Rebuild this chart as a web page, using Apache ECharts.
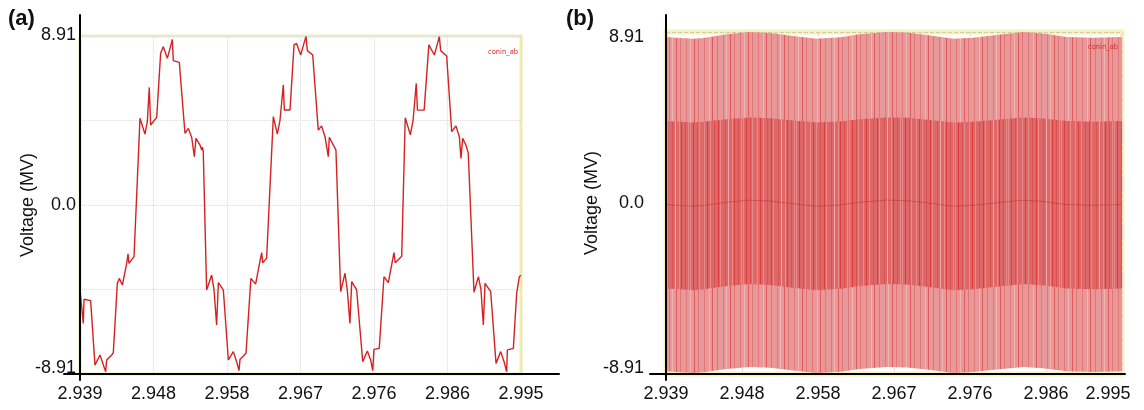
<!DOCTYPE html>
<html>
<head>
<meta charset="utf-8">
<script src="https://cdn.jsdelivr.net/npm/echarts@6/dist/echarts.min.js"></script>
<style>
html,body{margin:0;padding:0;background:#fff;}
#c{width:1144px;height:410px;}
</style>
</head>
<body>
<div id="c"></div>
<script>
// ---- axis ticks ----
const T0 = 2.939, T1 = 2.995;
const xTickLabels = ['2.939','2.948','2.958','2.967','2.976','2.986','2.995'];
const yTickLabels = ['-8.91','','0.0','','8.91'];
const yMin = -8.91, yMax = 8.91, yStep = 4.455;

// ---- panel (a): conin_ab waveform (time s, voltage MV) ----
const aTime = [
2.93900,2.93942,2.93951,2.94035,2.94090,2.94154,2.94226,2.94239,2.94302,2.94323,
2.94374,2.94399,2.94438,2.94493,2.94510,2.94522,2.94586,2.94598,
2.94662,2.94725,2.94755,2.94780,2.94797,2.94874,
2.94924,2.94958,2.95009,2.95043,2.95072,2.95085,2.95161,
2.95233,2.95276,2.95318,2.95352,2.95373,2.95424,2.95445,2.95455,2.95465,
2.95508,2.95572,2.95602,2.95635,2.95657,2.95720,
2.95784,2.95847,2.95889,2.95919,2.95932,2.96008,
2.96070,2.96130,2.96186,2.96207,2.96220,2.96270,2.96292,
2.96355,2.96406,2.96440,2.96482,2.96495,2.96567,
2.96618,2.96650,2.96702,2.96744,2.96770,2.96787,2.96855,
2.96926,2.96968,2.97011,2.97053,2.97066,2.97117,2.97138,2.97150,
2.97210,2.97265,2.97294,2.97328,2.97350,2.97413,
2.97490,2.97549,2.97591,2.97617,2.97633,2.97700,
2.97760,2.97815,2.97887,2.97904,2.97985,
2.98030,2.98095,2.98130,2.98170,2.98185,2.98270,
2.98330,2.98355,2.98400,2.98440,2.98463,2.98480,2.98556,
2.98620,2.98674,2.98717,2.98738,2.98759,2.98800,2.98830,
2.98903,2.98959,2.98992,2.99022,2.99043,2.99115,
2.99183,2.99242,2.99285,2.99318,2.99327,2.99403,
2.99445,2.99479,2.99500
];
const aVolt = [
-4.45,-6.24,-4.97,-5.04,-8.44,-7.91,-8.79,-8.17,-7.91,-7.79,
-4.13,-3.87,-4.22,-3.08,-2.58,-3.08,-2.72,-2.64,
4.57,3.74,4.39,6.20,4.22,4.62,
8.00,8.35,7.73,8.26,8.73,7.61,7.52,
3.78,4.04,3.57,2.55,3.51,3.16,2.90,3.05,2.85,
-4.48,-3.69,-4.48,-6.33,-4.09,-4.48,
-8.17,-7.73,-8.26,-8.73,-8.14,-7.82,
-3.87,-4.17,-2.95,-2.51,-3.05,-2.80,-2.70,
4.66,3.74,4.48,6.33,5.01,5.01,
8.44,8.52,7.91,8.52,8.88,8.14,7.91,
3.95,4.17,3.60,2.55,3.57,3.16,3.10,2.90,
-4.57,-3.60,-4.48,-6.24,-4.04,-4.48,
-8.26,-7.70,-8.17,-8.73,-7.61,-7.56,
-3.78,-4.09,-2.51,-3.05,-2.70,
4.60,3.70,4.48,6.41,5.00,5.00,
8.45,8.52,7.91,8.52,8.88,8.14,7.86,
3.87,4.17,3.60,2.46,3.51,3.16,2.75,
-4.60,-3.78,-4.48,-6.33,-4.13,-4.57,
-8.35,-7.73,-8.26,-8.79,-7.64,-7.56,
-4.66,-3.78,-3.70
];

// ---- panel (b): envelopes of the switched conin_ab waveform ----
const bTime = [2.93900,2.94070,2.94240,2.94360,2.94645,2.94930,2.95180,2.95460,2.95750,2.96040,2.96280,
               2.96610,2.96860,2.97100,2.97430,2.97670,2.97960,2.98290,2.98530,2.98820,2.99150,2.99500];
const bTop    = [8.65,8.60,8.56,8.60,8.79,8.91,8.86,8.70,8.56,8.63,8.79,8.91,8.88,8.75,8.56,8.61,8.75,8.91,8.83,8.65,8.61,8.65];
const bUpper  = [4.27,4.23,4.20,4.23,4.37,4.46,4.42,4.30,4.20,4.25,4.37,4.46,4.44,4.34,4.20,4.24,4.34,4.46,4.40,4.27,4.24,4.27];
const bMid    = [-0.08,-0.13,-0.17,-0.13,0.04,0.15,0.10,-0.04,-0.17,-0.10,0.04,0.15,0.12,0.01,-0.17,-0.12,0.01,0.15,0.08,-0.08,-0.12,-0.08];
const bLower  = [-4.45,-4.50,-4.54,-4.50,-4.33,-4.22,-4.27,-4.41,-4.54,-4.47,-4.33,-4.22,-4.25,-4.36,-4.54,-4.49,-4.36,-4.22,-4.29,-4.45,-4.49,-4.45];
const bBottom = [-8.77,-8.82,-8.86,-8.82,-8.65,-8.54,-8.59,-8.73,-8.86,-8.79,-8.65,-8.54,-8.57,-8.68,-8.86,-8.81,-8.68,-8.54,-8.61,-8.77,-8.81,-8.77];

// ---- build ----
const STEP = (T1 - T0) / 6;
const toX = t => (t - T0) / STEP;
const pairs = (ts, vs) => ts.map((t, i) => [toX(t), vs[i]]);

const FONT = "'Liberation Sans', Arial, sans-serif";
const NARROW = "'Liberation Sans Narrow', 'DejaVu Sans Condensed', sans-serif";

function stripes(spec, map) {
  const c = document.createElement('canvas');
  c.width = spec.length; c.height = 4;
  const g = c.getContext('2d');
  for (let i = 0; i < spec.length; i++) {
    g.fillStyle = map[spec[i]];
    g.fillRect(i, 0, 1, 4);
  }
  return c;
}
const lightSpec = '..d....l..r....d.....d..l...r...d.....d...l...r...d...';
const darkSpec  = '.l..r...d.l....l..r..l...d...r.l....d..w...l.r...d..l';
const lightPat = { image: stripes(lightSpec, {'.':'#e89898','d':'#e27777','l':'#eeb4b4','r':'#e05c5c'}), repeat: 'repeat' };
const darkPat  = { image: stripes(darkSpec,  {'.':'#de6767','d':'#d85252','l':'#e68a8a','r':'#e03c3c','w':'#eca8a8'}), repeat: 'repeat' };

function xMain(grid, splitColor, splitType, z, maxPad) {
  return {
    type: 'value', gridIndex: grid, min: 0, max: 6, interval: 1, z: z,
    axisLine: { show: false }, axisTick: { show: false },
    splitLine: { show: true, lineStyle: { color: splitColor, type: splitType, width: 1 } },
    axisLabel: {
      margin: 11, fontSize: 18, color: '#111', fontFamily: FONT,
      formatter: (v, i) => {
        const s = xTickLabels[Math.round(v)] || '';
        return (Math.round(v) === 6 && maxPad) ? '{r|' + s + '}' : s;
      },
      rich: { r: { fontSize: 18, color: '#111', fontFamily: FONT, padding: [0, maxPad || 0, 0, 0] } }
    }
  };
}
function yMain(grid, splitColor, splitType, z, margin, gap, padMin, padMax) {
  return {
    type: 'value', gridIndex: grid, min: yMin, max: yMax, interval: yStep, z: z,
    name: 'Voltage (MV)', nameLocation: 'middle', nameGap: gap, nameMoveOverlap: false,
    nameTextStyle: { fontSize: 18, color: '#111', fontFamily: FONT },
    axisLine: { show: false }, axisTick: { show: false },
    splitLine: { show: true, lineStyle: { color: splitColor, type: splitType, width: 1 } },
    axisLabel: {
      margin: margin, fontSize: 18, color: '#111', fontFamily: FONT,
      formatter: (v, i) => {
        const k = Math.round((v - yMin) / yStep);
        const s = yTickLabels[k];
        if (k === 0) return '{lo|' + s + '}';
        if (k === 4) return '{hi|' + s + '}';
        return s;
      },
      rich: {
        lo: { fontSize: 18, color: '#111', fontFamily: FONT, padding: padMin },
        hi: { fontSize: 18, color: '#111', fontFamily: FONT, padding: padMax }
      }
    }
  };
}
const lineAxis = (type, grid) => ({
  type: 'value', gridIndex: grid, z: 10,
  axisLine: { show: true, lineStyle: { color: '#000', width: 2 } },
  axisTick: { show: false }, axisLabel: { show: false }, splitLine: { show: false }
});
const hiddenAxis = grid => ({ type: 'value', gridIndex: grid, show: false });

const option = {
  animation: false,
  backgroundColor: '#fff',
  title: [
    { text: '(a)', left: 8, top: 8, padding: 0, textStyle: { fontSize: 22, fontWeight: 'bold', color: '#111', fontFamily: FONT } },
    { text: '(b)', left: 566, top: 8, padding: 0, textStyle: { fontSize: 22, fontWeight: 'bold', color: '#111', fontFamily: FONT } }
  ],
  legend: [
    { data: [{ name: 'conin_ab', icon: 'none' }], left: 483, top: 48, padding: 0, itemWidth: 0, itemHeight: 0, selectedMode: false,
      textStyle: { color: '#d43030', fontSize: 7.5, fontFamily: NARROW } },
    { data: [{ name: 'conin_ab', icon: 'none' }], left: 1083, top: 43, padding: 0, itemWidth: 0, itemHeight: 0, selectedMode: false,
      textStyle: { color: '#d43030', fontSize: 7.5, fontFamily: NARROW } }
  ],
  grid: [
    { left: 80, top: 36, width: 441, height: 338, show: true, borderColor: '#f1edae', borderWidth: 3, backgroundColor: '#fff' },
    { left: 666, top: 32, width: 456, height: 342, show: true, borderColor: '#f6f2bc', borderWidth: 5, backgroundColor: '#fff' },
    { left: 64, top: 36, width: 495, height: 338 },
    { left: 80, top: 15, width: 441, height: 365 },
    { left: 650, top: 32, width: 475, height: 342 },
    { left: 666, top: 15, width: 456, height: 365 }
  ],
  xAxis: [
    xMain(0, '#dcdcdc', 'dotted', 0, 0),
    xMain(1, 'rgba(235,205,205,0.8)', 'dashed', 3, 28),
    lineAxis('x', 2), hiddenAxis(3), lineAxis('x', 4), hiddenAxis(5)
  ],
  yAxis: [
    yMain(0, '#dcdcdc', 'dotted', 0, 4, 43, [0, 0, 12, 0], [0, 0, 2, 0]),
    yMain(1, 'rgba(170,150,150,0.45)', 'dashed', 3, 22, 65, [0, 0, 12, 0], [10, 0, 0, 0]),
    hiddenAxis(2), lineAxis('y', 3), hiddenAxis(4), lineAxis('y', 5)
  ],
  series: [
    { name: 'conin_ab', type: 'line', xAxisIndex: 0, yAxisIndex: 0, data: pairs(aTime, aVolt),
      showSymbol: false, silent: true, lineStyle: { color: '#d42222', width: 1.4 }, itemStyle: { color: '#d42222' } },
    { name: 'conin_ab', type: 'line', xAxisIndex: 1, yAxisIndex: 1, data: pairs(bTime, bTop),
      showSymbol: false, silent: true, lineStyle: { width: 0 }, itemStyle: { color: '#d43030' },
      areaStyle: { color: lightPat, opacity: 1, origin: 'auto' } },
    { name: 'b_bottom', type: 'line', xAxisIndex: 1, yAxisIndex: 1, data: pairs(bTime, bBottom),
      showSymbol: false, silent: true, lineStyle: { width: 0 },
      areaStyle: { color: lightPat, opacity: 1, origin: 'auto' } },
    { name: 'b_upper', type: 'line', xAxisIndex: 1, yAxisIndex: 1, data: pairs(bTime, bUpper),
      showSymbol: false, silent: true, lineStyle: { width: 0 },
      areaStyle: { color: darkPat, opacity: 1, origin: 'auto' } },
    { name: 'b_lower', type: 'line', xAxisIndex: 1, yAxisIndex: 1, data: pairs(bTime, bLower),
      showSymbol: false, silent: true, lineStyle: { width: 0 },
      areaStyle: { color: darkPat, opacity: 1, origin: 'auto' } },
    { name: 'b_mid', type: 'line', xAxisIndex: 1, yAxisIndex: 1, data: pairs(bTime, bMid),
      showSymbol: false, silent: true, lineStyle: { color: 'rgba(190,40,40,0.45)', width: 1 } }
  ]
};

const chart = echarts.init(document.getElementById('c'), null, { renderer: 'canvas' });
chart.setOption(option);
</script>
</body>
</html>
